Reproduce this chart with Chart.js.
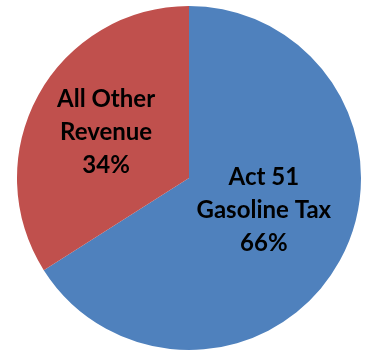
<!DOCTYPE html>
<html>
<head>
<meta charset="utf-8">
<script src="https://cdn.jsdelivr.net/npm/chart.js@4"></script>
<style>
  body { margin: 0; background: #fff; }
</style>
</head>
<body>
<canvas id="revenuePie" width="365" height="352"></canvas>
<script>
// data
const categories = [['Act 51', 'Gasoline Tax'], ['All Other', 'Revenue']];
const shares = [66, 34];
const sliceColors = ['#4F81BD', '#C0504D'];

// draws the label text inside each slice
const sliceLabels = {
  id: 'sliceLabels',
  afterDatasetsDraw(chart, args, opts) {
    const ctx = chart.ctx;
    const meta = chart.getDatasetMeta(0);
    const total = shares.reduce((a, b) => a + b, 0);
    ctx.save();
    ctx.font = opts.font;
    ctx.fillStyle = '#000';
    ctx.textAlign = 'center';
    ctx.textBaseline = 'middle';
    meta.data.forEach((arc, i) => {
      const mid = (arc.startAngle + arc.endAngle) / 2;
      const r = arc.outerRadius * opts.radial[i];
      const x = arc.x + Math.cos(mid) * r + opts.nudge[i][0];
      const y = arc.y + Math.sin(mid) * r + opts.nudge[i][1];
      const lines = categories[i].concat(Math.round(shares[i] / total * 100) + '%');
      const start = y - (lines.length - 1) * opts.lineHeight / 2;
      lines.forEach((t, j) => ctx.fillText(t, x, start + j * opts.lineHeight));
    });
    ctx.restore();
  }
};

const myChart = new Chart(document.getElementById('revenuePie'), {
  type: 'pie',
  data: {
    labels: categories,
    datasets: [{
      data: shares,
      backgroundColor: sliceColors,
      borderWidth: 0
    }]
  },
  options: {
    responsive: false,
    animation: false,
    layout: { padding: { left: 17, right: 4, top: 6, bottom: 2 } },
    plugins: {
      legend: { display: false },
      tooltip: { enabled: false },
      sliceLabels: {
        font: 'bold 24px Lato',
        lineHeight: 33,
        radial: [0.47, 0.55],
        nudge: [[4, -7], [0, 0]]
      }
    }
  },
  plugins: [sliceLabels]
});
</script>
</body>
</html>
